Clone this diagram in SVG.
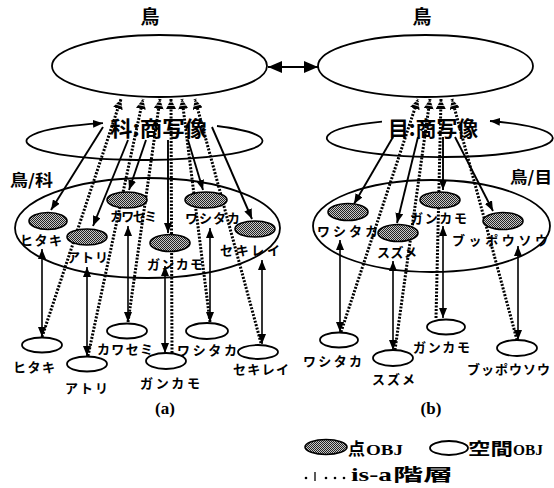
<svg xmlns="http://www.w3.org/2000/svg" width="554" height="488" viewBox="0 0 554 488">
<style>
.big{fill:none;stroke:#000;stroke-width:1.8}
.pt{fill:url(#hatch);stroke:#000;stroke-width:1.6}
.sp{fill:#fff;stroke:#000;stroke-width:1.8}
.map{stroke:#000;stroke-width:1.9;fill:none;marker-end:url(#ah)}
.dbl{stroke:#000;stroke-width:1.6;fill:none;marker-start:url(#ah);marker-end:url(#ah)}
.isa{stroke:#000;stroke-width:3;stroke-dasharray:2 1.5;fill:none;marker-end:url(#sh)}
.jp{font-family:"Noto Sans CJK JP","Noto Sans CJK SC",sans-serif;font-weight:bold;fill:#000}
.lb{font-size:13px}
.ser{font-family:"Liberation Serif","DejaVu Serif",serif;font-weight:bold;fill:#000}
</style>
<defs>
<pattern id="hatch" width="2" height="2" patternUnits="userSpaceOnUse">
<rect width="2" height="2" fill="#c8c8c8"/><rect width="1" height="1" fill="#222"/><rect x="1" y="1" width="1" height="1" fill="#222"/>
</pattern>
<marker id="ah" viewBox="0 0 10 8" refX="10" refY="4" markerWidth="10" markerHeight="8" markerUnits="userSpaceOnUse" orient="auto-start-reverse"><path d="M0,0 L10,4 L0,8 z" fill="#000"/></marker>
<marker id="bh" viewBox="0 0 14 12" refX="14" refY="6" markerWidth="14" markerHeight="12" markerUnits="userSpaceOnUse" orient="auto-start-reverse"><path d="M0,0 L14,6 L0,12 z" fill="#000"/></marker>
<marker id="sh" viewBox="0 0 10 10" refX="10" refY="5" markerWidth="10" markerHeight="10" markerUnits="userSpaceOnUse" orient="auto"><path d="M0,0 L10,5 L0,10 z" fill="#000"/><path d="M3.5,0 V10 M6.8,0 V10" stroke="#fff" stroke-width="0.8"/></marker>
</defs>

<!-- panel (a) big ellipses -->
<g id="top-a">
<text class="jp" x="150" y="24" font-size="19" text-anchor="middle">鳥</text>
<ellipse class="big" cx="159.5" cy="66" rx="107.5" ry="31"/>
</g>
<g id="map-a">
<path class="big" d="M217,126 A118 19 0 1 1 103,123.2" marker-end="url(#ah)"/>
<text class="jp" x="110" y="136" font-size="21" textLength="97" lengthAdjust="spacingAndGlyphs">科:商写像</text>
</g>
<g id="family-a">
<ellipse class="big" cx="147.5" cy="228" rx="132.5" ry="50"/>
<text class="jp" x="10" y="186" font-size="16" textLength="43" lengthAdjust="spacingAndGlyphs">鳥/科</text>
</g>

<!-- panel (b) big ellipses -->
<g id="top-b">
<text class="jp" x="422" y="24" font-size="19" text-anchor="middle">鳥</text>
<ellipse class="big" cx="425.5" cy="66" rx="107.5" ry="31"/>
</g>
<g id="map-b">
<path class="big" d="M382,121.7 A113 19 0 1 0 490,121" marker-end="url(#ah)"/>
<text class="jp" x="388" y="136" font-size="21" textLength="90" lengthAdjust="spacingAndGlyphs">目:商写像</text>
</g>
<g id="order-b">
<ellipse class="big" cx="431.5" cy="226" rx="118.5" ry="46"/>
<text class="jp" x="510" y="183" font-size="16" textLength="42" lengthAdjust="spacingAndGlyphs">鳥/目</text>
</g>

<g id="connectors">
<line x1="268" y1="67" x2="318" y2="67" stroke="#000" stroke-width="2" marker-start="url(#bh)" marker-end="url(#bh)"/>
<!-- quotient map arrows (a) -->
<line class="map" x1="103" y1="127" x2="51" y2="210"/>
<line class="map" x1="128" y1="140" x2="93" y2="226"/>
<line class="map" x1="146" y1="140" x2="129" y2="190"/>
<line class="map" x1="168" y1="140" x2="168" y2="233"/>
<line class="map" x1="188" y1="140" x2="203" y2="190"/>
<line class="map" x1="212" y1="127" x2="252" y2="219"/>
<!-- quotient map arrows (b) -->
<line class="map" x1="393" y1="137" x2="354" y2="204"/>
<line class="map" x1="418" y1="137" x2="397" y2="223"/>
<line class="map" x1="443" y1="137" x2="443" y2="190"/>
<line class="map" x1="455" y1="137" x2="493" y2="211"/>
<!-- is-a (a) -->
<line class="isa" x1="42" y1="337" x2="121" y2="99"/>
<line class="isa" x1="88" y1="356" x2="143" y2="99"/>
<line class="isa" x1="128" y1="322" x2="160" y2="99"/>
<line class="isa" x1="172" y1="353" x2="171" y2="99"/>
<line class="isa" x1="210" y1="322" x2="182" y2="99"/>
<line class="isa" x1="261" y1="343" x2="195" y2="99"/>
<!-- is-a (b) -->
<line class="isa" x1="341" y1="332" x2="418" y2="99"/>
<line class="isa" x1="395" y1="350" x2="430" y2="99"/>
<line class="isa" x1="436" y1="318" x2="441" y2="99"/>
<line class="isa" x1="517" y1="340" x2="452" y2="99"/>
<!-- point-space links (a) -->
<line class="dbl" x1="42" y1="249" x2="42" y2="337"/>
<line class="dbl" x1="87" y1="267" x2="87" y2="356"/>
<line class="dbl" x1="128" y1="226" x2="128" y2="322"/>
<line class="dbl" x1="165" y1="266" x2="165" y2="353"/>
<line class="dbl" x1="210" y1="228" x2="210" y2="322"/>
<line class="dbl" x1="262" y1="260" x2="262" y2="344"/>
<!-- point-space links (b) -->
<line class="dbl" x1="340" y1="240" x2="340" y2="332"/>
<line class="dbl" x1="393" y1="261" x2="393" y2="350"/>
<line class="dbl" x1="443" y1="226" x2="443" y2="318"/>
<line class="dbl" x1="518" y1="246" x2="518" y2="340"/>
</g>

<!-- point objects (a) -->
<g id="pa-hitaki"><ellipse class="pt" cx="48" cy="221" rx="19" ry="8.5"/><text class="jp lb" x="20" y="245" textLength="42" lengthAdjust="spacing">ヒタキ</text></g>
<g id="pa-atori"><ellipse class="pt" cx="87" cy="237" rx="20" ry="8"/><text class="jp lb" x="67" y="262" textLength="41" lengthAdjust="spacing">アトリ</text></g>
<g id="pa-kawasemi"><ellipse class="pt" cx="127" cy="200" rx="20" ry="8"/><text class="jp lb" x="110" y="221" textLength="47" lengthAdjust="spacing">カワセミ</text></g>
<g id="pa-gankamo"><ellipse class="pt" cx="170" cy="243" rx="20" ry="8.5"/><text class="jp lb" x="147" y="269" textLength="56" lengthAdjust="spacing">ガンカモ</text></g>
<g id="pa-washitaka"><ellipse class="pt" cx="206" cy="200" rx="21" ry="8"/><text class="jp lb" x="185" y="223" textLength="55" lengthAdjust="spacing">ワシタカ</text></g>
<g id="pa-sekirei"><ellipse class="pt" cx="255" cy="229" rx="20" ry="8"/><text class="jp lb" x="220" y="255" textLength="60" lengthAdjust="spacing">セキレイ</text></g>
<!-- point objects (b) -->
<g id="pb-washitaka"><ellipse class="pt" cx="348" cy="212" rx="20" ry="8.5"/><text class="jp lb" x="317" y="236" textLength="61" lengthAdjust="spacing">ワシタカ</text></g>
<g id="pb-suzume"><ellipse class="pt" cx="398" cy="233" rx="20" ry="8.5"/><text class="jp lb" x="377" y="257" textLength="40" lengthAdjust="spacing">スズメ</text></g>
<g id="pb-gankamo"><ellipse class="pt" cx="440" cy="200" rx="20" ry="8"/><text class="jp lb" x="410" y="223" textLength="57" lengthAdjust="spacing">ガンカモ</text></g>
<g id="pb-buppousou"><ellipse class="pt" cx="503" cy="221" rx="20" ry="8.5"/><text class="jp lb" x="452" y="245" textLength="96" lengthAdjust="spacing">ブッポウソウ</text></g>

<!-- spatial objects (a) -->
<g id="sa-hitaki"><ellipse class="sp" cx="42" cy="345" rx="20" ry="7.5"/><text class="jp lb" x="13" y="372" textLength="42" lengthAdjust="spacing">ヒタキ</text></g>
<g id="sa-atori"><ellipse class="sp" cx="87" cy="364" rx="20" ry="7.5"/><text class="jp lb" x="65" y="393" textLength="43" lengthAdjust="spacing">アトリ</text></g>
<g id="sa-kawasemi"><ellipse class="sp" cx="127" cy="331" rx="20" ry="7.5"/><text class="jp lb" x="97" y="354" textLength="56" lengthAdjust="spacing">カワセミ</text></g>
<g id="sa-gankamo"><ellipse class="sp" cx="166" cy="361" rx="20" ry="8"/><text class="jp lb" x="140" y="388" textLength="60" lengthAdjust="spacing">ガンカモ</text></g>
<g id="sa-washitaka"><ellipse class="sp" cx="207" cy="331" rx="21" ry="8"/><text class="jp lb" x="177" y="355" textLength="60" lengthAdjust="spacing">ワシタカ</text></g>
<g id="sa-sekirei"><ellipse class="sp" cx="258" cy="352" rx="20" ry="7"/><text class="jp lb" x="233" y="374" textLength="56" lengthAdjust="spacing">セキレイ</text></g>
<!-- spatial objects (b) -->
<g id="sb-washitaka"><ellipse class="sp" cx="339" cy="340" rx="19" ry="7.5"/><text class="jp lb" x="303" y="366" textLength="59" lengthAdjust="spacing">ワシタカ</text></g>
<g id="sb-suzume"><ellipse class="sp" cx="393" cy="358" rx="20" ry="8"/><text class="jp lb" x="372" y="384" textLength="43" lengthAdjust="spacing">スズメ</text></g>
<g id="sb-gankamo"><ellipse class="sp" cx="446" cy="327" rx="19" ry="7.5"/><text class="jp lb" x="413" y="352" textLength="57" lengthAdjust="spacing">ガンカモ</text></g>
<g id="sb-buppousou"><ellipse class="sp" cx="517" cy="348" rx="20" ry="8"/><text class="jp lb" x="467" y="374" textLength="83" lengthAdjust="spacing">ブッポウソウ</text></g>

<text class="ser" x="165" y="414" font-size="17" text-anchor="middle">(a)</text>
<text class="ser" x="431" y="414" font-size="17" text-anchor="middle">(b)</text>

<!-- legend -->
<g id="legend">
<ellipse class="pt" cx="326" cy="447" rx="21" ry="7.5"/>
<text class="jp" x="348" y="455" font-size="17">点</text>
<text class="ser" x="366" y="455" font-size="14" textLength="37" lengthAdjust="spacingAndGlyphs">OBJ</text>
<ellipse class="sp" cx="449" cy="448" rx="19" ry="7"/>
<text class="jp" x="468" y="455" font-size="17" textLength="45" lengthAdjust="spacingAndGlyphs">空間</text>
<text class="ser" x="513" y="455" font-size="14" textLength="30" lengthAdjust="spacingAndGlyphs">OBJ</text>
<g fill="#000"><circle cx="306" cy="478" r="1.3"/><circle cx="326" cy="478" r="1.3"/><circle cx="335" cy="478" r="1.3"/><circle cx="344" cy="478" r="1.3"/></g>
<line x1="315" y1="472" x2="315" y2="481" stroke="#000" stroke-width="1.3"/>
<text class="ser" x="351" y="481" font-size="19" textLength="41" lengthAdjust="spacingAndGlyphs">is-a</text>
<text class="jp" x="393" y="481" font-size="17" textLength="60" lengthAdjust="spacingAndGlyphs">階層</text>
</g>
</svg>
